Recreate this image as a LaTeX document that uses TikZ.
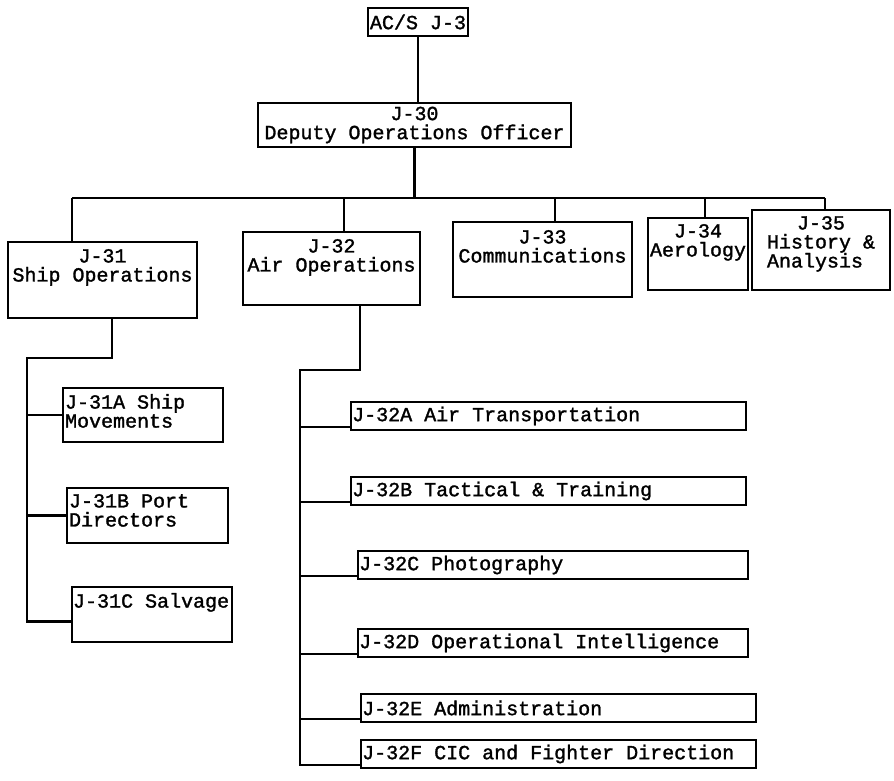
\documentclass[tikz,border=0pt]{standalone}
\usepackage{fontspec}
\newfontfamily\typed{Liberation Mono}[FakeBold=1.5]
\usetikzlibrary{positioning}
\newcommand{\typefont}{\typed\fontsize{20pt}{19pt}\selectfont}

\begin{document}
\begin{tikzpicture}[x=1pt, y=-1pt, node distance=0pt]
        \def\colorink{black}
        \tikzset{office/.style={draw=\colorink,
                line width = 2.2pt,
                inner sep = 0pt
        }}
        \tikzset{caption/.style={
                align=center,
                font=\typefont,
                text=\colorink,
                inner sep=1pt
        }}
        \tikzset{section/.style={draw=\colorink,
                line width = 2.2pt,
                anchor=west,
                inner sep=0pt,
                minimum height=28pt
        }}
        \tikzset{connector/.style={draw=\colorink, line width=2.2pt}}

        \useasboundingbox (0,0) rectangle (894,781);

        % top of the chart
        \node[office, caption, minimum width=100pt, minimum height=28pt] (acs) at (418,22) {AC/S J-3};
        \node[office, caption, minimum width=313pt, minimum height=44pt] (j30) at (414.5,125) {J-30\\Deputy Operations Officer};
        \draw[connector] (acs.south) -- (acs.south |- j30.north);

        % sections
        \node[office, minimum width=189pt, minimum height=76pt] (j31) at (102.5,280) {};
        \node[caption, below=7pt of j31.north] (j31text) {J-31\\Ship Operations};
        \node[office, minimum width=177pt, minimum height=73pt] (j32) at (331.5,268.5) {};
        \node[caption, below=7pt of j32.north] (j32text) {J-32\\Air Operations};
        \node[office, minimum width=179pt, minimum height=75pt] (j33) at (542.5,259.5) {};
        \node[caption, below=8pt of j33.north] (j33text) {J-33\\Communications};
        \node[office, minimum width=100pt, minimum height=72pt] (j34) at (698,254) {};
        \node[caption, below=6pt of j34.north] (j34text) {J-34\\Aerology};
        \node[office, minimum width=138pt, minimum height=80pt] (j35) at (821,250) {};
        \node[caption, below=6pt of j35.north] (j35text) {J-35\\History \&\\\makebox[108pt][l]{Analysis}};

        \coordinate (bus31) at (72,198);
        \coordinate (bus32) at (344,198);
        \coordinate (bus33) at (555,198);
        \coordinate (bus34) at (705,198);
        \coordinate (bus35) at (825,198);
        \draw[connector] (bus31) -- (bus35);
        \draw[connector] (j30.south) -- (j30.south |- bus31);
        \draw[connector] (bus31) -- (bus31 |- j31.north);
        \draw[connector] (bus32) -- (bus32 |- j32.north);
        \draw[connector] (bus33) -- (bus33 |- j33.north);
        \draw[connector] (bus34) -- (bus34 |- j34.north);
        \draw[connector] (bus35) -- (bus35 |- j35.north);

        % ship operations branch
        \node[office, minimum width=160pt, minimum height=54pt] (j31a) at (143,415) {};
        \node[caption, align=left, below right=6pt and 2pt of j31a.north west] (j31atext) {J-31A Ship\\Movements};
        \node[office, minimum width=161pt, minimum height=55pt] (j31b) at (147.5,515.5) {};
        \node[caption, align=left, below right=6pt and 2pt of j31b.north west] (j31btext) {J-31B Port\\Directors};
        \node[office, minimum width=160pt, minimum height=55pt] (j31c) at (152,614.5) {};
        \node[caption, align=left, below right=6pt and 1pt of j31c.north west] (j31ctext) {J-31C Salvage};

        \coordinate (elbow31) at (112,358);
        \coordinate (spine31) at (27,358);
        \draw[connector] (elbow31 |- j31.south) -- (elbow31) -- (spine31) |- ([yshift=-7pt]j31c.west);
        \draw[connector] (spine31 |- j31a.west) -- (j31a.west);
        \draw[connector] (spine31 |- j31b.west) -- (j31b.west);

        % air operations branch
        \node[section, minimum width=395pt] (j32a) at (350,416) {};
        \node[caption, right=1pt of j32a.west] (j32atext) {J-32A Air Transportation};
        \node[section, minimum width=395pt] (j32b) at (350,491) {};
        \node[caption, right=1pt of j32b.west] (j32btext) {J-32B Tactical \& Training};
        \node[section, minimum width=390pt] (j32c) at (357,565) {};
        \node[caption, right=1pt of j32c.west] (j32ctext) {J-32C Photography};
        \node[section, minimum width=390pt] (j32d) at (357,643) {};
        \node[caption, right=1pt of j32d.west] (j32dtext) {J-32D Operational Intelligence};
        \node[section, minimum width=395pt] (j32e) at (360,708) {};
        \node[caption, right=1pt of j32e.west] (j32etext) {J-32E Administration};
        \node[section, minimum width=395pt] (j32f) at (360,754) {};
        \node[caption, right=1pt of j32f.west] (j32ftext) {J-32F CIC and Fighter Direction};

        \coordinate (j32a-in) at ([yshift=4pt]j32a.south west);
        \coordinate (j32b-in) at ([yshift=4pt]j32b.south west);
        \coordinate (j32c-in) at ([yshift=4pt]j32c.south west);
        \coordinate (j32d-in) at ([yshift=4pt]j32d.south west);
        \coordinate (j32e-in) at ([yshift=4pt]j32e.south west);
        \coordinate (j32f-in) at ([yshift=4pt]j32f.south west);
        \coordinate (elbow32) at (360,370);
        \coordinate (spine32) at (300,370);
        \draw[connector] (elbow32 |- j32.south) -- (elbow32) -- (spine32) |- (j32f-in);
        \draw[connector] (spine32 |- j32a-in) -- (j32a-in);
        \draw[connector] (spine32 |- j32b-in) -- (j32b-in);
        \draw[connector] (spine32 |- j32c-in) -- (j32c-in);
        \draw[connector] (spine32 |- j32d-in) -- (j32d-in);
        \draw[connector] (spine32 |- j32e-in) -- (j32e-in);
\end{tikzpicture}
\end{document}
